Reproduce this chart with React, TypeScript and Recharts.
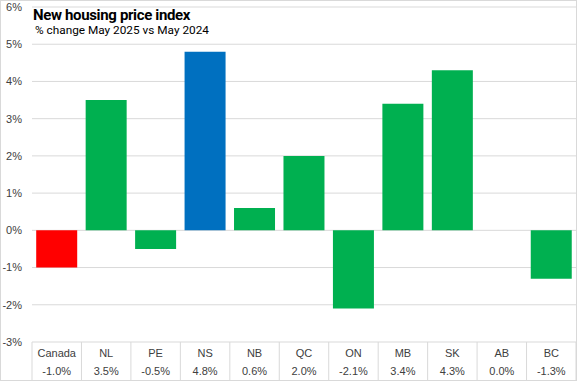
import React from 'react';
import { BarChart, Bar, XAxis, YAxis, CartesianGrid, Cell } from 'recharts';

const categories = ['Canada', 'NL', 'PE', 'NS', 'NB', 'QC', 'ON', 'MB', 'SK', 'AB', 'BC'];
const changes = [-1.0, 3.5, -0.5, 4.8, 0.6, 2.0, -2.1, 3.4, 4.3, 0.0, -1.3];
const valueLabels = ['-1.0%', '3.5%', '-0.5%', '4.8%', '0.6%', '2.0%', '-2.1%', '3.4%', '4.3%', '0.0%', '-1.3%'];
const yTicks = [-3, -2, -1, 0, 1, 2, 3, 4, 5, 6];
const barColors = ['#FF0000', '#00B050', '#00B050', '#0070C0', '#00B050', '#00B050', '#00B050', '#00B050', '#00B050', '#00B050', '#00B050'];

const data = categories.map((c, i) => ({ name: c, value: changes[i], label: valueLabels[i] }));

const W = 577;
const H = 381;
const margin = { top: 7, right: 1, bottom: 0, left: 0 };
const yAxisWidth = 32;
const xAxisHeight = 39;
const gridColor = '#D9D9D9';
const font = '"Liberation Sans", Arial, sans-serif';

const TableTick = (props: any) => {
  const { x, y, index } = props;
  const half = (W - margin.left - margin.right - yAxisWidth) / categories.length / 2;
  return (
    <g>
      {index === 0 && <line x1={x - half} x2={x - half} y1={y} y2={y + xAxisHeight} stroke={gridColor} />}
      <line x1={x + half} x2={x + half} y1={y} y2={y + xAxisHeight} stroke={gridColor} />
      <text x={x} y={y + 15} textAnchor="middle" fill="#404040" fontSize={11} fontFamily={font}>
        {categories[index]}
      </text>
      <text x={x} y={y + 33} textAnchor="middle" fill="#404040" fontSize={11} fontFamily={font}>
        {valueLabels[index]}
      </text>
    </g>
  );
};

export default function App() {
  return (
    <div style={{ position: 'absolute', left: 0, top: 0, width: W, height: H, background: '#fff' }}>
      <BarChart width={W} height={H} data={data} margin={margin} barCategoryGap="8.5%">
        <CartesianGrid vertical={false} stroke={gridColor} strokeWidth={1} />
        <YAxis
          width={yAxisWidth}
          domain={[-3, 6]}
          ticks={yTicks}
          interval={0}
          axisLine={false}
          tickLine={false}
          tickSize={0}
          tickMargin={10}
          tickFormatter={(v: number) => `${v}%`}
          tick={{ fill: '#404040', fontSize: 11, fontFamily: font }}
        />
        <XAxis
          dataKey="name"
          height={xAxisHeight}
          axisLine={false}
          tickLine={false}
          tickSize={0}
          tickMargin={0}
          interval={0}
          tick={<TableTick />}
        />
        <Bar dataKey="value" isAnimationActive={false}>
          {data.map((d, i) => (
            <Cell key={d.name} fill={barColors[i]} />
          ))}
        </Bar>
      </BarChart>
      <div style={{ position: 'absolute', left: 33, top: 5, fontFamily: 'Roboto, sans-serif', fontWeight: 700, fontSize: 15, letterSpacing: -0.35, color: '#000', lineHeight: '20px', whiteSpace: 'nowrap' }}>
        New housing price index
      </div>
      <div style={{ position: 'absolute', left: 35, top: 23, fontFamily: 'Roboto, sans-serif', fontSize: 11.8, color: '#000', lineHeight: '14px', whiteSpace: 'nowrap' }}>
        % change May 2025 vs May 2024
      </div>
      <div style={{ position: 'absolute', left: 0, top: 0, width: W, height: H, boxSizing: 'border-box', border: `1px solid ${gridColor}`, pointerEvents: 'none' }} />
    </div>
  );
}
